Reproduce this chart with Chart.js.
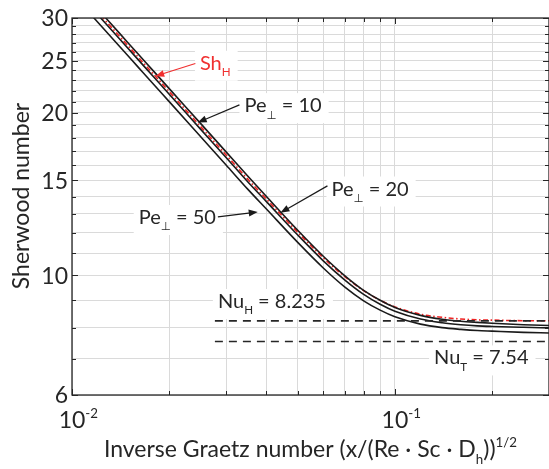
<!DOCTYPE html>
<html>
<head>
<meta charset="utf-8">
<script src="https://cdn.jsdelivr.net/npm/chart.js@4.4.1/dist/chart.umd.min.js"></script>
<style>
  html, body { margin: 0; padding: 0; background: #fff; }
</style>
</head>
<body>
<canvas id="grafico" width="549" height="469"></canvas>
<script>
  // Dati
  var graetz = [0.011, 0.012, 0.014, 0.016, 0.018, 0.02, 0.025, 0.03, 0.035, 0.04, 0.05, 0.06,
                0.07, 0.08, 0.09, 0.1, 0.12, 0.14, 0.16, 0.18, 0.2, 0.25, 0.3];
  var shH  = [32.63, 30.79, 27.79, 25.42, 23.50, 21.91, 18.88, 16.72, 15.08, 13.85, 12.02, 10.78,
              9.94, 9.37, 8.99, 8.74, 8.47, 8.36, 8.30, 8.27, 8.26, 8.24, 8.24];
  var pe10 = [33.05, 31.19, 28.15, 25.75, 23.81, 22.19, 19.13, 16.94, 15.28, 14.00, 12.12, 10.85,
              9.98, 9.38, 8.99, 8.72, 8.43, 8.29, 8.22, 8.18, 8.15, 8.10, 8.07];
  var pe20 = [32.27, 30.45, 27.48, 25.14, 23.24, 21.67, 18.67, 16.54, 14.91, 13.70, 11.88, 10.64,
              9.80, 9.22, 8.84, 8.58, 8.30, 8.17, 8.10, 8.06, 8.04, 8.01, 7.99];
  var pe50 = [31.26, 29.50, 26.62, 24.35, 22.51, 20.99, 18.09, 16.02, 14.45, 13.27, 11.51, 10.32,
              9.51, 8.97, 8.62, 8.38, 8.12, 8.00, 7.94, 7.90, 7.88, 7.84, 7.82];

  var nuH = 8.235;
  var nuT = 7.54;
  var limiteX = [0.0277, 0.3];

  // Griglia e tacche
  var xGriglia = [0.01, 0.02, 0.03, 0.04, 0.05, 0.06, 0.07, 0.08, 0.09, 0.1, 0.2, 0.3];
  var xEtichette = [0.01, 0.1];
  var yGriglia = [];
  for (var v = 6; v <= 30; v++) yGriglia.push(v);
  var yEtichette = [6, 10, 15, 20, 25, 30];

  var FONT = "Lato, 'DejaVu Sans', sans-serif";

  function punti(ys) {
    return graetz.map(function (x, i) { return { x: x, y: ys[i] }; });
  }

  // Testo con pedici e apici
  function larghezza(ctx, runs, size) {
    var w = 0;
    runs.forEach(function (r) {
      ctx.font = (r.s ? size * 0.58 : size) + 'px ' + FONT;
      w += ctx.measureText(r.t).width;
    });
    return w;
  }
  function scrivi(ctx, runs, x, base, size, color) {
    ctx.fillStyle = color;
    ctx.textBaseline = 'alphabetic';
    ctx.textAlign = 'left';
    runs.forEach(function (r) {
      var s = r.s ? size * 0.58 : size;
      var dy = r.s === 'sub' ? size * 0.32 : (r.s === 'sup' ? -size * 0.42 : 0);
      ctx.font = s + 'px ' + FONT;
      ctx.fillText(r.t, x, base + dy);
      x += ctx.measureText(r.t).width;
    });
  }
  function freccia(ctx, x1, y1, x2, y2, color) {
    var ang = Math.atan2(y2 - y1, x2 - x1);
    var L = 9, W = 3.5;
    ctx.strokeStyle = color;
    ctx.fillStyle = color;
    ctx.lineWidth = 1.2;
    ctx.beginPath();
    ctx.moveTo(x1, y1);
    ctx.lineTo(x2 - Math.cos(ang) * L * 0.8, y2 - Math.sin(ang) * L * 0.8);
    ctx.stroke();
    ctx.beginPath();
    ctx.moveTo(x2, y2);
    ctx.lineTo(x2 - Math.cos(ang) * L - Math.sin(ang) * W, y2 - Math.sin(ang) * L + Math.cos(ang) * W);
    ctx.lineTo(x2 - Math.cos(ang) * L + Math.sin(ang) * W, y2 - Math.sin(ang) * L - Math.cos(ang) * W);
    ctx.closePath();
    ctx.fill();
  }

  var pe = function (n) { return [{ t: 'Pe' }, { t: '\u22A5', s: 'sub' }, { t: ' = ' + n }]; };

  // Annotazioni (in coordinate dei dati)
  var note = [
    { runs: [{ t: 'Sh' }, { t: 'H', s: 'sub' }], x: 0.0249, y: 24.8, color: '#f03030',
      da: [0.0241, 24.7], a: [0.0181, 23.4] },
    { runs: pe(10), x: 0.0342, y: 20.7, da: [0.0330, 20.7], a: [0.0245, 19.2] },
    { runs: pe(20), x: 0.0636, y: 14.5, da: [0.0618, 14.65], a: [0.0442, 13.06] },
    { runs: pe(50), x: 0.0279, y: 12.84, destra: true, da: [0.0283, 12.84], a: [0.0376, 13.11] },
    { runs: [{ t: 'Nu' }, { t: 'H', s: 'sub' }, { t: ' = 8.235' }], x: 0.0283, y: 8.97 },
    { runs: [{ t: 'Nu' }, { t: 'T', s: 'sub' }, { t: ' = 7.54' }], x: 0.1322, y: 7.05 }
  ];

  var assi = {
    id: 'assi',
    afterDraw: function (chart) {
      var ctx = chart.ctx, a = chart.chartArea;
      var sx = chart.scales.x, sy = chart.scales.y;
      ctx.save();

      // Annotazioni con sfondo bianco
      note.forEach(function (n) {
        var size = 20;
        var w = larghezza(ctx, n.runs, size);
        var px = sx.getPixelForValue(n.x), py = sy.getPixelForValue(n.y);
        var left = n.destra ? px - w : px;
        var base = py + size * 0.36;
        ctx.fillStyle = '#fff';
        ctx.fillRect(left - 5, base - size * 0.95, w + 12, size * 1.5);
        scrivi(ctx, n.runs, left, base, size, n.color || '#262626');
        if (n.da) {
          freccia(ctx, sx.getPixelForValue(n.da[0]), sy.getPixelForValue(n.da[1]),
                  sx.getPixelForValue(n.a[0]), sy.getPixelForValue(n.a[1]), n.color || '#1a1a1a');
        }
      });

      // Cornice
      ctx.strokeStyle = '#262626';
      ctx.lineWidth = 1.3;
      ctx.strokeRect(a.left, a.top, a.right - a.left, a.bottom - a.top);

      // Tacche interne
      ctx.lineWidth = 1;
      xGriglia.forEach(function (v) {
        var p = Math.round(sx.getPixelForValue(v)) + 0.5;
        var L = xEtichette.indexOf(v) >= 0 ? 6 : 4;
        ctx.beginPath();
        ctx.moveTo(p, a.bottom); ctx.lineTo(p, a.bottom - L);
        ctx.moveTo(p, a.top); ctx.lineTo(p, a.top + L);
        ctx.stroke();
      });
      yGriglia.forEach(function (v) {
        var p = Math.round(sy.getPixelForValue(v)) + 0.5;
        var L = yEtichette.indexOf(v) >= 0 ? 6 : 4;
        ctx.beginPath();
        ctx.moveTo(a.left, p); ctx.lineTo(a.left + L, p);
        ctx.moveTo(a.right, p); ctx.lineTo(a.right - L, p);
        ctx.stroke();
      });

      // Etichette asse y
      ctx.fillStyle = '#262626';
      ctx.font = '23px ' + FONT;
      ctx.textAlign = 'right';
      ctx.textBaseline = 'middle';
      yEtichette.forEach(function (v) {
        ctx.fillText(String(v), a.left - 4, sy.getPixelForValue(v) + 1);
      });

      // Etichette asse x
      xEtichette.forEach(function (v) {
        var esp = Math.round(Math.log10(v));
        ctx.font = '23px ' + FONT;
        var w10 = ctx.measureText('10').width;
        var p = sx.getPixelForValue(v);
        scrivi(ctx, [{ t: '10' }, { t: String(esp), s: 'sup' }], p - w10 / 2, 428, 23, '#262626');
      });

      // Titolo asse x
      var titolo = [{ t: 'Inverse Graetz number (x/(Re \u00B7 Sc \u00B7 D' }, { t: 'h', s: 'sub' },
                    { t: '))' }, { t: '1/2', s: 'sup' }];
      var wt = larghezza(ctx, titolo, 23);
      scrivi(ctx, titolo, (a.left + a.right) / 2 - wt / 2, 457, 23, '#262626');

      // Titolo asse y
      ctx.translate(22, 196);
      ctx.rotate(-Math.PI / 2);
      ctx.font = '23px ' + FONT;
      ctx.textAlign = 'center';
      ctx.textBaseline = 'middle';
      ctx.fillText('Sherwood number', 0, 0);
      ctx.restore();
    }
  };

  var linea = function (dati, colore, tratto) {
    return {
      data: dati,
      borderColor: colore,
      borderWidth: 1.6,
      borderDash: tratto || [],
      pointRadius: 0,
      fill: false,
      cubicInterpolationMode: 'monotone'
    };
  };

  var canvas = document.getElementById('grafico').getContext('2d');

  var grafico = new Chart(canvas, {
    type: 'line',
    data: {
      datasets: [
        linea([{ x: limiteX[0], y: nuH }, { x: limiteX[1], y: nuH }], '#262626', [8, 6]),
        linea([{ x: limiteX[0], y: nuT }, { x: limiteX[1], y: nuT }], '#262626', [8, 6]),
        linea(punti(pe50), '#1a1a1a'),
        linea(punti(pe20), '#1a1a1a'),
        linea(punti(pe10), '#1a1a1a'),
        linea(punti(shH), '#ee2222', [5, 2.5, 1.5, 2.5])
      ]
    },
    options: {
      responsive: false,
      animation: false,
      devicePixelRatio: 1,
      layout: { padding: { top: 18, right: 0, left: 0, bottom: 0 } },
      plugins: { legend: { display: false }, tooltip: { enabled: false } },
      scales: {
        x: {
          type: 'logarithmic',
          min: 0.01,
          max: 0.3,
          afterBuildTicks: function (s) { s.ticks = xGriglia.map(function (v) { return { value: v }; }); },
          afterFit: function (s) { s.height = 74; },
          ticks: { display: false },
          grid: { color: '#dadada', lineWidth: 1, drawTicks: false },
          border: { display: false }
        },
        y: {
          type: 'logarithmic',
          min: 6,
          max: 30,
          afterBuildTicks: function (s) { s.ticks = yGriglia.map(function (v) { return { value: v }; }); },
          afterFit: function (s) { s.width = 72; },
          ticks: { display: false },
          grid: { color: '#dadada', lineWidth: 1, drawTicks: false },
          border: { display: false }
        }
      }
    },
    plugins: [assi]
  });
</script>
</body>
</html>
